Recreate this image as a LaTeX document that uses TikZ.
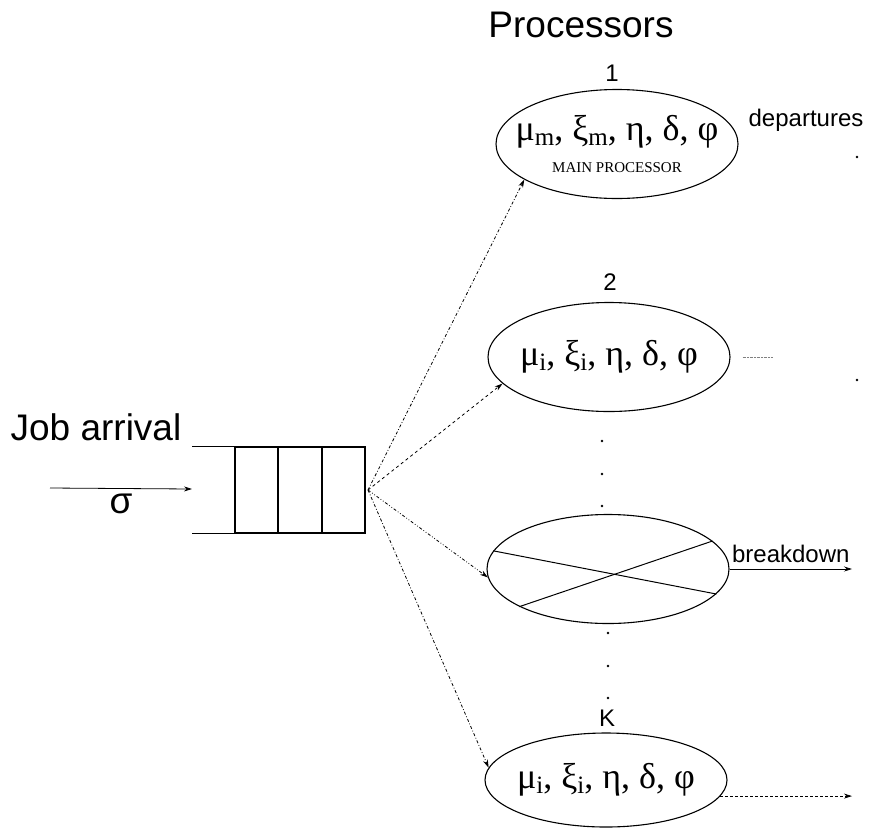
\documentclass[tikz,border=0pt]{standalone}
\usepackage{fontspec}
\setmainfont{Liberation Serif}
\newfontfamily\labelfont{Liberation Sans}
\usetikzlibrary{shapes.geometric,arrows.meta}

\newcommand{\lowsub}[1]{\raisebox{-0.3ex}{\fontsize{25}{25}\selectfont #1}}

\tikzset{
  proc/.style={draw, ellipse, line width=1.1pt, minimum width=242pt,
    minimum height=109pt, inner xsep=-30pt, inner ysep=0pt, align=center,
    font=\fontsize{36}{36}\selectfont},
  lab/.style={font=\labelfont\fontsize{24}{24}\selectfont},
  biglab/.style={font=\labelfont\fontsize{37}{37}\selectfont},
  feed/.style={-{Stealth[length=8pt,width=5pt]}, line width=0.8pt},
  pt/.style={circle, fill, inner sep=0pt, minimum size=2.8pt},
}

\begin{document}
\begin{tikzpicture}[x=1pt, y=-1pt]
      \useasboundingbox (0,0) rectangle (872,828);
      % titles
      \node [biglab] (ptitle) at (581,25) {Processors};
      \node [biglab] (jtitle) at (96,427) {Job arrival};
      % queue
      \node [draw, line width=1.1pt, minimum width=130pt, minimum height=86pt,
        inner sep=0pt] (queue) at (300,490) {};
      \draw [line width=1.1pt] (queue.north west) -- ++(-42,0);
      \draw [line width=1.1pt] (queue.south west) -- ++(-42,0);
      \foreach \x in {278,322}
        \draw [line width=1.1pt] (\x,447) -- (\x,533);
      \coordinate (src) at (50,488);
      \coordinate (qin) at (192,489);
      \draw [feed] (src) -- node [below=2pt, biglab] {σ} (qin);
      \coordinate (qout) at (368,490);
      % processors
      \node [lab] (n1) at (612,73) {1};
      \node [proc] (e1) at (617,144) {μ\lowsub{m}, ξ\lowsub{m}, η, δ, φ\\[-4pt]
        {\fontsize{15}{15}\selectfont MAIN PROCESSOR}};
      \node [lab] (n2) at (610,282) {2};
      \node [proc] (e2) at (609,357) {μ\lowsub{i}, ξ\lowsub{i}, η, δ, φ};
      \node [proc] (e3) at (608,569) {};
      \draw [line width=1pt] (e3.171) -- (e3.-13);
      \draw [line width=1pt] (e3.203) -- (e3.15);
      \node [lab] (nk) at (607,718) {K};
      \node [proc, minimum height=94pt] (e4) at (606,780) {μ\lowsub{i}, ξ\lowsub{i}, η, δ, φ};
      % dots between processors
      \foreach \y in {441,474,506}
        \node [pt] at (602,\y) {};
      \foreach \y in {633,666,698}
        \node [pt] at (608,\y) {};
      % dispatching
      \draw [feed, dash dot] (qout) -- (e1.201);
      \draw [feed, dashed] (qout) -- (e2.194);
      \draw [feed, dash dot dot] (qout) -- (e3.184);
      \draw [feed, dash dot] (qout) -- (e4.174);
      % departures
      \node [lab] (dep) at (806,120) {departures};
      \node [pt] (d1) at (857,157) {};
      \node [pt] (d2) at (857,380) {};
      \draw [densely dotted, gray] ([xshift=12pt]e2.east) -- ++(30,0);
      \coordinate (bout) at (852,578);
      \draw [feed] (e3.east) -- node [above=3pt, lab] {breakdown} (e3.east -| bout);
      \coordinate (kout) at (852,790);
      \draw [feed, densely dashed] (e4.-8) -- (e4.-8 -| kout);
\end{tikzpicture}
\end{document}
